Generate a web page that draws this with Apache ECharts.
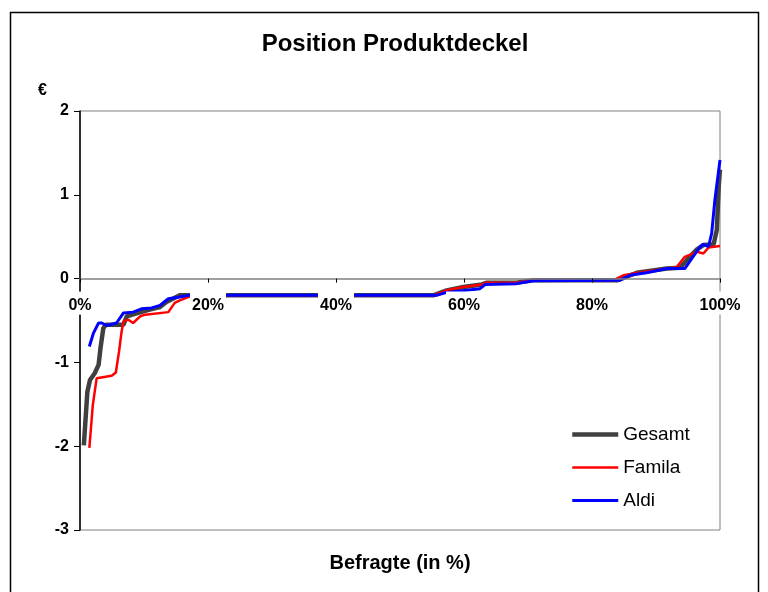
<!DOCTYPE html>
<html>
<head>
  <meta charset="utf-8">
  <title>Position Produktdeckel</title>
  <script src="https://cdn.jsdelivr.net/npm/echarts@6/dist/echarts.min.js"></script>
  <style>
    html, body { margin: 0; padding: 0; background: #fff; }
  </style>
</head>
<body>
<div id="main" style="width: 768px;height:592px;"></div>
<script type="text/javascript">
  // Werte: [Befragte in %, Wert in €]
  var gesamt = [
    [0.6, -1.99], [1.15, -1.35], [1.56, -1.21], [2.3, -1.13], [2.9, -1.03], [3.2, -0.83],
    [3.65, -0.59], [4.06, -0.55], [6.8, -0.55], [7.3, -0.45], [9.1, -0.41], [10.9, -0.37],
    [12.5, -0.34], [13.5, -0.28], [15.6, -0.2], [55.2, -0.2], [57.3, -0.14], [59.9, -0.1],
    [62.8, -0.07], [63.5, -0.05], [68.2, -0.05], [70.8, -0.02], [83.9, -0.02], [87, 0.07],
    [91.7, 0.12], [93.75, 0.13], [94.8, 0.22], [96.4, 0.35], [97.4, 0.4], [99, 0.41],
    [99.5, 0.58], [99.8, 1.1], [100, 1.3]
  ];
  var famila = [
    [1.46, -2.02], [2.0, -1.51], [2.6, -1.19], [4.95, -1.16], [5.6, -1.12], [6.1, -0.87],
    [6.5, -0.63], [6.8, -0.51], [7.55, -0.49], [8.3, -0.53], [9.4, -0.45], [10.2, -0.43],
    [13.8, -0.4], [14.8, -0.29], [15.6, -0.26], [16.9, -0.22], [17.5, -0.2], [55.2, -0.2],
    [57.3, -0.14], [59.9, -0.1], [62.8, -0.07], [63.5, -0.05], [68.2, -0.05], [70.8, -0.02],
    [83.3, -0.02], [84.9, 0.04], [86.5, 0.06], [90.6, 0.11], [93.2, 0.135], [94.5, 0.26],
    [96.4, 0.32], [97.4, 0.3], [98.2, 0.37], [100, 0.39]
  ];
  var aldi = [
    [1.46, -0.81], [2.1, -0.65], [2.9, -0.53], [3.4, -0.53], [4.2, -0.56], [5.7, -0.53],
    [6.8, -0.41], [8.3, -0.4], [9.6, -0.36], [11.2, -0.35], [12.5, -0.32], [13.8, -0.24],
    [15.6, -0.22], [16.9, -0.2], [55.7, -0.2], [57, -0.17], [62.5, -0.12], [63.3, -0.07],
    [68.2, -0.06], [70.8, -0.025], [84.4, -0.02], [85.9, 0.04], [88.5, 0.07], [91.7, 0.12],
    [94.5, 0.12], [95.6, 0.24], [96.9, 0.38], [97.4, 0.41], [98.2, 0.38], [98.7, 0.54],
    [99.2, 0.94], [100, 1.415]
  ];
  var seriesNames = ['Gesamt', 'Famila', 'Aldi'];
  var seriesColors = ['#404040', '#ff0000', '#0000ff'];
  var seriesWidths = [4.5, 2.5, 3];
  var seriesData = [gesamt, famila, aldi];

  var font = '"Liberation Sans", Arial, sans-serif';
  var chartDom = document.getElementById('main');
  var myChart = echarts.init(chartDom);
  var option;

  // grid: top 111, height 419 -> 0 liegt 2/5 tiefer; x-Achse dorthin schieben
  var gridTop = 111, gridBottom = 62, gridHeight = 592 - gridTop - gridBottom;
  var zeroOffset = -gridHeight * 3 / 5;

  option = {
    animation: false,
    backgroundColor: '#fff',
    graphic: [{
      type: 'rect',
      left: 8, top: 10,
      shape: { width: 748, height: 600 },
      style: { fill: 'none', stroke: '#000', lineWidth: 1.5 },
      silent: true
    }],
    title: [
      {
        text: 'Position Produktdeckel',
        left: 395, top: 32, padding: 0, textAlign: 'center',
        textStyle: { fontFamily: font, fontSize: 24, fontWeight: 'bold', color: '#000' }
      },
      {
        text: 'Befragte (in %)',
        left: 400, top: 553, padding: 0, textAlign: 'center',
        textStyle: { fontFamily: font, fontSize: 20, fontWeight: 'bold', color: '#000' }
      },
      {
        text: '€',
        left: 38, top: 83, padding: 0,
        textStyle: { fontFamily: font, fontSize: 16, fontWeight: 'bold', color: '#000' }
      }
    ],
    legend: {
      orient: 'vertical',
      left: 570, top: 425, padding: 0,
      itemWidth: 46, itemHeight: 14, itemGap: 14,
      data: seriesNames,
      lineStyle: { width: 'inherit' },
      itemStyle: { opacity: 0 },
      textStyle: { fontFamily: font, fontSize: 19, color: '#000' }
    },
    grid: {
      left: 80, right: 48, top: gridTop, bottom: gridBottom,
      show: true, borderColor: '#808080', borderWidth: 1
    },
    xAxis: {
      type: 'value',
      min: 0, max: 100, interval: 20,
      position: 'bottom',
      offset: zeroOffset,
      z: 5,
      axisLine: { onZero: false, lineStyle: { color: '#808080', width: 1.5 } },
      axisTick: { show: true, length: 4, lineStyle: { color: '#000' } },
      splitLine: { show: false },
      axisLabel: {
        formatter: '{value}%',
        margin: 13,
        fontFamily: font, fontSize: 16, fontWeight: 'bold', color: '#000',
        backgroundColor: '#fff',
        padding: [6, 2, 1, 2]
      }
    },
    yAxis: {
      type: 'value',
      min: -3, max: 2, interval: 1,
      axisLine: { show: true, onZero: false, lineStyle: { color: '#000', width: 1.5 } },
      axisTick: { show: true, length: 6, lineStyle: { color: '#000' } },
      splitLine: { show: false },
      axisLabel: {
        margin: 11,
        fontFamily: font, fontSize: 16, fontWeight: 'bold', color: '#000'
      }
    },
    series: seriesNames.map(function (name, i) {
      return {
        name: name,
        type: 'line',
        symbol: 'none',
        data: seriesData[i],
        z: 2 + i,
        lineStyle: { color: seriesColors[i], width: seriesWidths[i] },
        itemStyle: { color: seriesColors[i] }
      };
    })
  };

  option && myChart.setOption(option);
</script>
</body>
</html>
